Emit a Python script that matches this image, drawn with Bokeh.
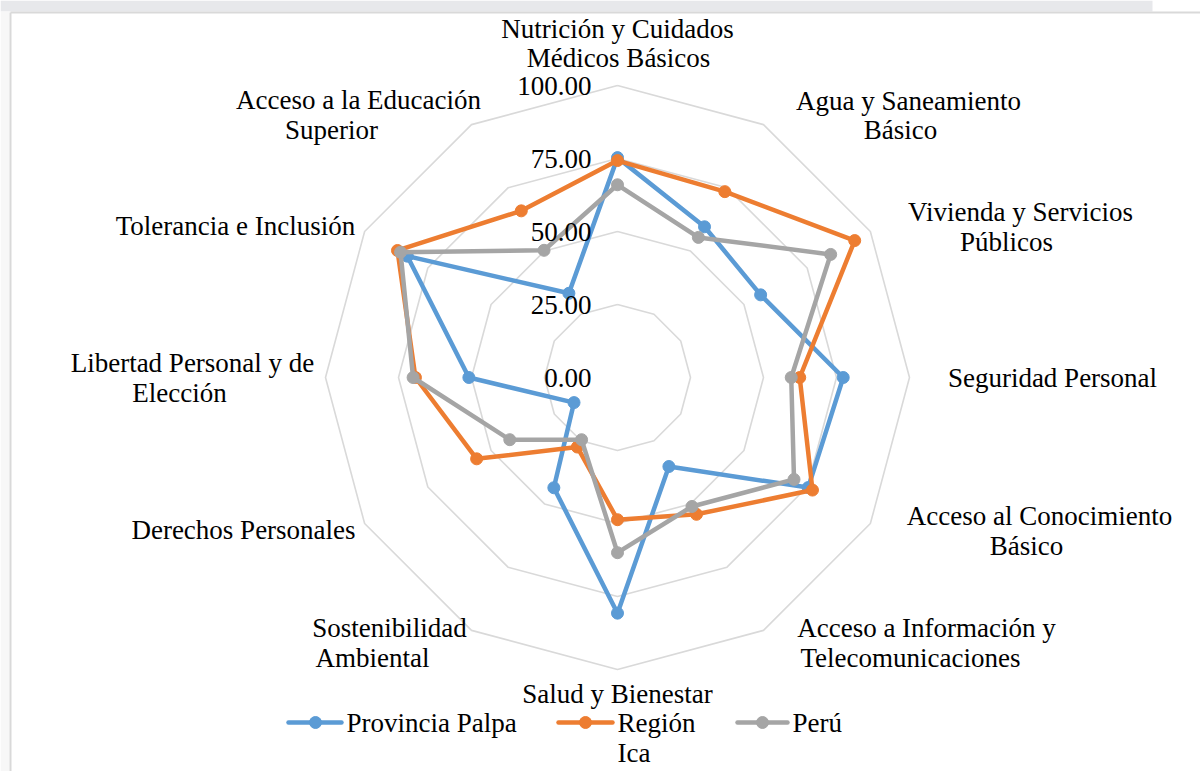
import math
from bokeh.plotting import figure
from bokeh.models import Range1d
from bokeh.core.properties import value
from bokeh.embed import file_html
from bokeh.resources import INLINE

# ---------------- data ----------------
categories = [
    "Nutrición y Cuidados Médicos Básicos",
    "Agua y Saneamiento Básico",
    "Vivienda y Servicios Públicos",
    "Seguridad Personal",
    "Acceso al Conocimiento Básico",
    "Acceso a Información y Telecomunicaciones",
    "Salud y Bienestar",
    "Sostenibilidad Ambiental",
    "Derechos Personales",
    "Libertad Personal y de Elección",
    "Tolerancia e Inclusión",
    "Acceso a la Educación Superior",
]
palpa = [75.3, 59.6, 56.6, 77.3, 75.4, 35.2, 80.7, 43.6, 17.2, 50.9, 83.1, 33.3]
ica = [74.3, 73.5, 93.8, 62.4, 77.1, 54.1, 48.7, 27.5, 55.7, 69.2, 87.0, 65.9]
peru = [66.0, 55.4, 84.3, 59.5, 69.8, 51.0, 60.0, 24.6, 42.6, 70.0, 85.8, 50.3]
series_names = ["Provincia Palpa", "Región\nIca", "Perú"]
ticks = [0, 25, 50, 75, 100]
tick_labels = ["0.00", "25.00", "50.00", "75.00", "100.00"]

# label lines (category label split as in the chart)
label_lines = [
    ["Nutrición y Cuidados", "Médicos Básicos"],
    ["Agua y Saneamiento", "Básico"],
    ["Vivienda y Servicios", "Públicos"],
    ["Seguridad Personal"],
    ["Acceso al Conocimiento", "Básico"],
    ["Acceso a Información y", "Telecomunicaciones"],
    ["Salud y Bienestar"],
    ["Sostenibilidad", "Ambiental"],
    ["Derechos Personales"],
    ["Libertad Personal y de", "Elección"],
    ["Tolerancia e Inclusión"],
    ["Acceso a la Educación", "Superior"],
]

# ---------------- layout (pixel positions of label lines) ----------------
label_pos = [
    [(617, 28), (618, 57)],
    [(908, 100), (900, 129)],
    [(1020, 211), (1006, 241)],
    [(1052, 377)],
    [(1039, 515), (1026, 545)],
    [(926, 627), (910, 657)],
    [(617, 693)],
    [(389, 627), (372, 657)],
    [(243, 529)],
    [(192, 362), (179, 392)],
    [(235, 225)],
    [(358, 99), (331, 129)],
]

CX, CY, S = 617.0, 377.0, 2.92  # center in px, px per unit
OX, OY = 0, 0                   # page offset of the figure
W, H = 1200, 771


def X(px):
    return (px - CX) / S


def Y(py):
    return (CY - py) / S


p = figure(width=W, height=H, output_backend="svg", toolbar_location=None,
           x_range=Range1d(X(OX), X(OX + W)), y_range=Range1d(Y(OY + H), Y(OY)),
           x_axis_location=None, y_axis_location=None, min_border=0)
p.grid.visible = False
p.outline_line_color = None
p.background_fill_color = "white"
p.border_fill_color = "white"

FONT = value("Liberation Serif")
FS = "27px"

# frame decorations
p.quad(left=X(0), right=X(1152), top=Y(0), bottom=Y(11), fill_color="#e7e8eb", line_color=None)
p.quad(left=X(0), right=X(9), top=Y(11), bottom=Y(H), fill_color="#f7f7f7", line_color=None)
p.line([X(10), X(10)], [Y(12), Y(H)], line_color="#d9d9d9", line_width=2)
p.line([X(10), X(W)], [Y(12), Y(12)], line_color="#d9d9d9", line_width=2)

n = len(categories)
angles = [math.pi / 2 - i * 2 * math.pi / n for i in range(n)]

# grid rings
for t in ticks[1:]:
    xs = [t * math.cos(a) for a in angles] + [t * math.cos(angles[0])]
    ys = [t * math.sin(a) for a in angles] + [t * math.sin(angles[0])]
    p.line(xs, ys, line_color="#d9d9d9", line_width=1.6)

# series
colors = ["#5B9BD5", "#ED7D31", "#A5A5A5"]
for vals, col in zip([palpa, ica, peru], colors):
    xs = [v * math.cos(a) for v, a in zip(vals, angles)]
    ys = [v * math.sin(a) for v, a in zip(vals, angles)]
    p.line(xs + xs[:1], ys + ys[:1], line_color=col, line_width=4.5, line_join="round")
    p.scatter(xs, ys, size=12, fill_color=col, line_color=col, marker="circle")

# tick labels
p.text(x=[X(591)] * len(ticks), y=ticks, text=tick_labels, text_align="right",
       text_baseline="middle", text_font=FONT, text_font_size=FS, text_color="black")

# category labels
lx, ly, lt = [], [], []
for lines, poss in zip(label_lines, label_pos):
    for t, (px, py) in zip(lines, poss):
        lx.append(X(px)); ly.append(Y(py)); lt.append(t)
p.text(x=lx, y=ly, text=lt, text_align="center", text_baseline="middle",
       text_font=FONT, text_font_size=FS, text_color="black")

# legend
leg = [((288, 341, 315), 346), ((558, 612, 585), 617), ((737, 787, 762), 792)]
LY = 722
for (seg, tx), col, name in zip(leg, colors, series_names):
    x0, x1, xm = seg
    p.line([X(x0), X(x1)], [Y(LY), Y(LY)], line_color=col, line_width=4.5, line_cap="round")
    p.scatter([X(xm)], [Y(LY)], size=12, fill_color=col, line_color=col)
    for k, part in enumerate(name.split("\n")):
        p.text(x=[X(tx)], y=[Y(LY + 30 * k)], text=[part], text_align="left",
               text_baseline="middle", text_font=FONT, text_font_size=FS, text_color="black")

open("out.html", "w").write(file_html(p, INLINE))
